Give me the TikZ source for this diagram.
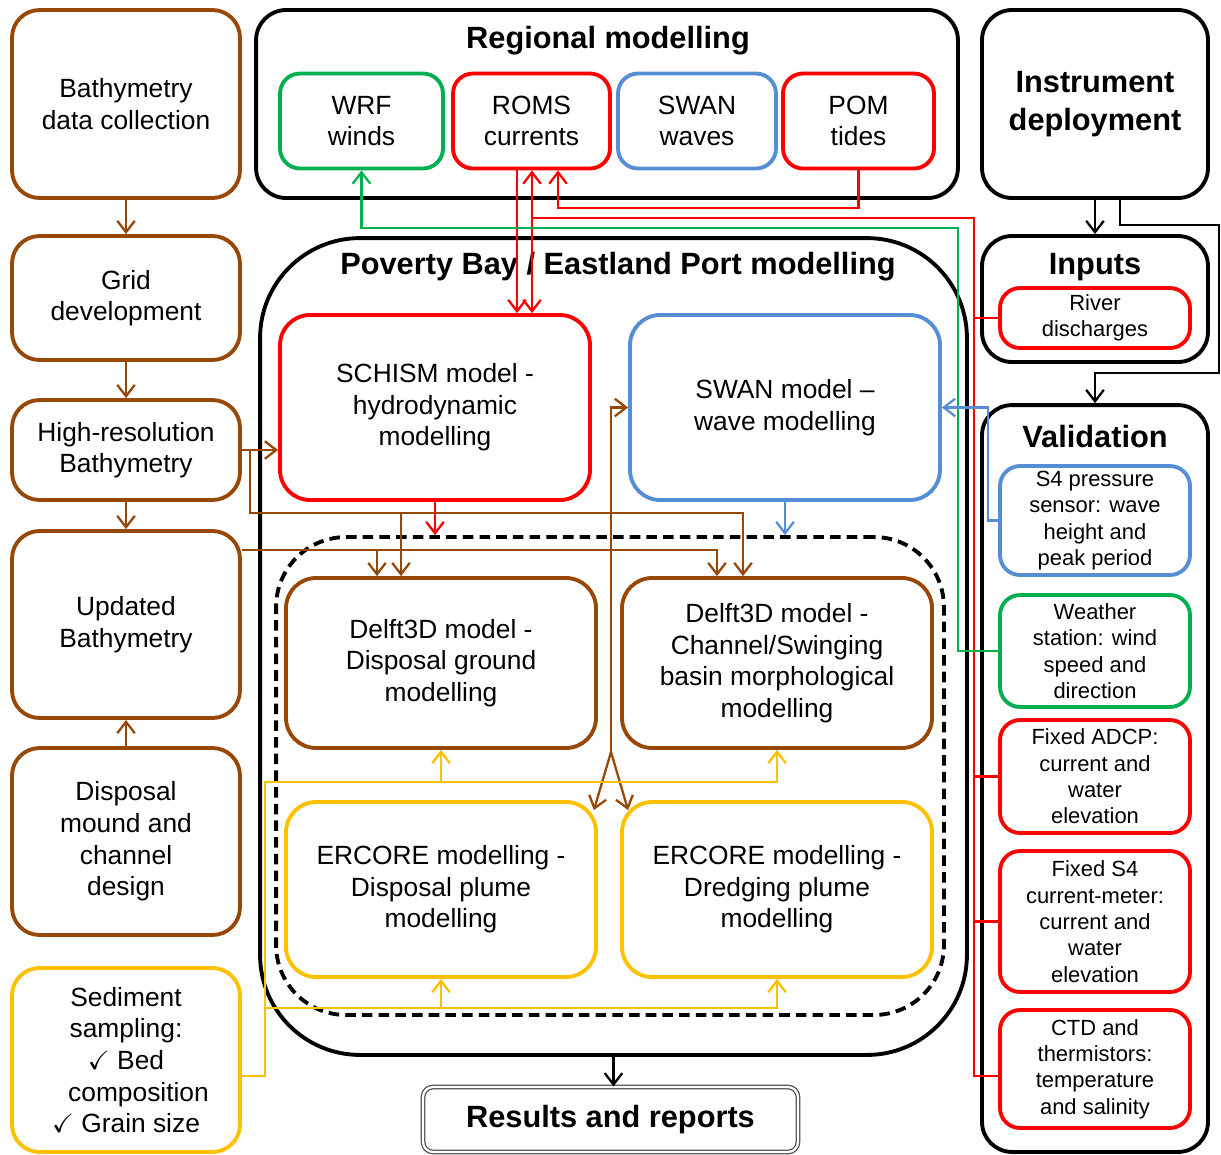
\documentclass[tikz,border=0pt]{standalone}
\usepackage{fontspec}
\setmainfont{Liberation Sans}
\usepackage{amssymb}
\usetikzlibrary{arrows.meta,calc}

\definecolor{brn}{RGB}{152,72,6}
\definecolor{rd}{RGB}{255,0,0}
\definecolor{grn}{RGB}{0,176,80}
\definecolor{blu}{RGB}{85,142,213}
\definecolor{ylw}{RGB}{255,192,0}

\newcommand{\boxfont}{\fontsize{15}{18}\selectfont}
\newcommand{\headfont}{\fontsize{17.5}{21.5}\selectfont\bfseries}
\newcommand{\smallfont}{\fontsize{12.5}{15}\selectfont}

\tikzset{
	>={Straight Barb[length=6.5pt,width=10pt]},
	modbox/.style={draw, line width=2.2pt, rounded corners=0.45cm, align=center, inner sep=0pt, font=\boxfont},
	leftbox/.style={modbox, draw=brn, rounded corners=0.55cm, minimum width=4.56cm},
	regbox/.style={modbox, minimum height=1.9cm, rounded corners=0.4cm},
	valbox/.style={modbox, font=\smallfont, minimum width=3.8cm, rounded corners=0.4cm},
	bigbox/.style={draw, line width=2.2pt, inner sep=0pt, rounded corners=0.6cm},
	innerbox/.style={modbox, minimum width=6.2cm, rounded corners=0.6cm},
	headtext/.style={font=\headfont, inner sep=0pt, align=center},
	wire/.style={line width=1.3pt}
}

\begin{document}
\begin{tikzpicture}[x=0.02cm, y=-0.02cm]
	\useasboundingbox (0,0) rectangle (1221,1154);

	\node[leftbox, minimum height=3.76cm] (bathy) at (126,104) {Bathymetry\\data collection};
	\node[leftbox, minimum height=2.48cm] (grid) at (126,298) {Grid\\development};
	\node[leftbox, minimum height=2cm] (hires) at (126,450) {High-resolution\\Bathymetry};
	\node[leftbox, minimum height=3.74cm] (updated) at (126,624.5) {Updated\\Bathymetry};
	\node[leftbox, minimum height=3.74cm] (mound) at (126,841.5) {Disposal\\mound and\\channel\\design};
	\node[leftbox, draw=ylw, minimum height=3.68cm] (sed) at (126,1060) {Sediment\\sampling:\\$\checkmark$ Bed\\\hspace*{0.5cm}composition\\$\checkmark$ Grain size};

	\node[bigbox, minimum width=14.04cm, minimum height=3.76cm] (regional) at (607,104) {};
	\node[headtext] (regtitle) at (608,41) {Regional modelling};
	\node[regbox, draw=grn, minimum width=3.26cm] (wrf) at (361.5,121) {WRF\\winds};
	\node[regbox, draw=rd, minimum width=3.14cm] (roms) at (531.5,121) {ROMS\\currents};
	\node[regbox, draw=blu, minimum width=3.16cm] (swanw) at (697,121) {SWAN\\waves};
	\node[regbox, draw=rd, minimum width=3.02cm] (pom) at (858.5,121) {POM\\tides};

	\node[bigbox, minimum width=4.52cm, minimum height=3.76cm, font=\headfont, align=center] (instr) at (1095,104) {Instrument\\deployment};
	\node[bigbox, minimum width=4.52cm, minimum height=2.52cm] (inputs) at (1095,299) {};
	\node[headtext] (inptitle) at (1095,267) {Inputs};
	\node[valbox, draw=rd, minimum height=1.2cm] (river) at (1095,318) {River\\discharges};

	\node[bigbox, minimum width=4.52cm, minimum height=14.94cm] (valid) at (1095,778.5) {};
	\node[headtext] (valtitle) at (1095,436) {Validation};
	\node[valbox, draw=blu, minimum height=2.18cm] (s4p) at (1095,520.5) {S4 pressure\\sensor: wave\\height and\\peak period};
	\node[valbox, draw=grn, minimum height=2.24cm] (weather) at (1095,651) {Weather\\station: wind\\speed and\\direction};
	\node[valbox, draw=rd, minimum height=2.26cm] (adcp) at (1095,776.5) {Fixed ADCP:\\current and\\water\\elevation};
	\node[valbox, draw=rd, minimum height=2.82cm] (s4c) at (1095,921.5) {Fixed S4\\current-meter:\\current and\\water\\elevation};
	\node[valbox, draw=rd, minimum height=2.36cm] (ctd) at (1095,1069) {CTD and\\thermistors:\\temperature\\and salinity};

	\node[bigbox, rounded corners=2cm, minimum width=14.14cm, minimum height=16.34cm] (poverty) at (613.5,646.5) {};
	\node[headtext] (povtitle) at (618,267) {Poverty Bay / Eastland Port modelling};
	\node[innerbox, draw=rd, minimum height=3.7cm] (schism) at (435,407.5) {SCHISM model -\\hydrodynamic\\modelling};
	\node[innerbox, draw=blu, minimum height=3.7cm] (swanm) at (785,407.5) {SWAN model --\\wave modelling};
	\node[bigbox, dash pattern=on 6pt off 3.5pt, rounded corners=1.4cm, minimum width=13.36cm, minimum height=9.56cm] (dashbox) at (610,776) {};
	\node[innerbox, draw=brn, minimum height=3.4cm] (delftd) at (441,663) {Delft3D model -\\Disposal ground\\modelling};
	\node[innerbox, draw=brn, minimum height=3.4cm] (delftc) at (777,663) {Delft3D model -\\Channel/Swinging\\basin morphological\\modelling};
	\node[innerbox, draw=ylw, minimum height=3.5cm] (ercd) at (441,889.5) {ERCORE modelling -\\Disposal plume\\modelling};
	\node[innerbox, draw=ylw, minimum height=3.5cm] (ercdr) at (777,889.5) {ERCORE modelling -\\Dredging plume\\modelling};

	\node[draw=black!70, double, double distance=1.3pt, line width=0.7pt, rounded corners=0.2cm, minimum width=7.5cm, minimum height=1.3cm, inner sep=0pt, font=\headfont] (results) at (610.5,1119.5) {Results and reports};

	\coordinate (busA) at (0,513);
	\coordinate (busB) at (0,550);
	\coordinate (busP) at (0,208);
	\coordinate (busR) at (974,218);
	\coordinate (busY) at (0,1008);
	\coordinate (gturn) at (958,228);
	\coordinate (yturn) at (265,782);
	\coordinate (kturn) at (1219,225);
	\coordinate (split) at (611,752);
	\coordinate (hrs) at ($(hires.east)+(8,0)$);
	\coordinate (hrc) at ($(delftc.north)+(-34,0)$);
	\coordinate (hrd) at ($(delftd.north)+(-40,0)$);
	\coordinate (upc) at ($(delftc.north)+(-60,0)$);
	\coordinate (upd) at ($(delftd.north)+(-64,0)$);
	\coordinate (r1) at ($(roms.south)+(-14.5,0)$);
	\coordinate (r2) at ($(roms.south)+(0.5,0)$);
	\coordinate (r3) at ($(roms.south)+(26.5,0)$);
	\coordinate (ctdin) at ($(ctd.west)+(0,7)$);
	\coordinate (sedout) at ($(sed.east)+(0,16)$);
	\coordinate (valin) at ($(valid.north)+(0,-30)$);

	\draw[wire, brn, ->] (bathy) -- (grid);
	\draw[wire, brn, ->] (grid) -- (hires);
	\draw[wire, brn, ->] (hires) -- (updated);
	\draw[wire, brn, ->] (mound) -- (updated);
	\draw[wire, brn, ->] (hires.east) -- (hires.east -| schism.west);
	\draw[wire, brn, ->] (hrs) |- (hrc |- busA) -- (hrc);
	\draw[wire, brn, ->] (hrd |- busA) -- (hrd);
	\draw[wire, brn, ->] (updated.east |- busB) -| (upc);
	\draw[wire, brn, ->] (upd |- busB) -- (upd);
	\draw[wire, brn, ->] (split) |- (swanm.west);
	\draw[wire, brn, ->] (split) -- ($(ercd.north east)+(-4,10)$);
	\draw[wire, brn, ->] (split) -- ($(ercdr.north west)+(8,10)$);

	\draw[wire, rd, ->] (r1) -- (r1 |- schism.north);
	\draw[wire, rd, <->] (r2 |- schism.north) -- (r2);
	\draw[wire, rd, ->] (pom.south) |- (r3 |- busP) -- (r3);
	\draw[wire, rd] (r2 |- busR) -- (busR) |- (ctdin);
	\foreach \n in {river, adcp, s4c}
		\draw[wire, rd] (busR |- \n.west) -- (\n.west);
	\draw[wire, rd, ->] (schism.south) -- (schism.south |- dashbox.north);

	\draw[wire, grn, ->] (weather.west) -| (gturn) -| (wrf.south);

	\draw[wire, blu, ->] (s4p.west) -- ++(-10,0) |- (swanm.east);
	\draw[wire, blu, ->] (swanm.south) -- (swanm.south |- dashbox.north);

	\draw[wire, ylw, ->] (sedout) -| (yturn) -| (delftc.south);
	\draw[wire, ylw, ->] (delftd.south |- yturn) -- (delftd.south);
	\draw[wire, ylw, ->] (yturn |- busY) -| (ercdr.south);
	\draw[wire, ylw, ->] (ercd.south |- busY) -- (ercd.south);

	\draw[wire, ->] (poverty.south) -- (poverty.south |- results.north);
	\draw[wire, ->] (instr) -- (inputs);
	\draw[wire, ->] ($(instr.south)+(25,0)$) |- (kturn) |- (valin) -- (valid.north);
\end{tikzpicture}
\end{document}
